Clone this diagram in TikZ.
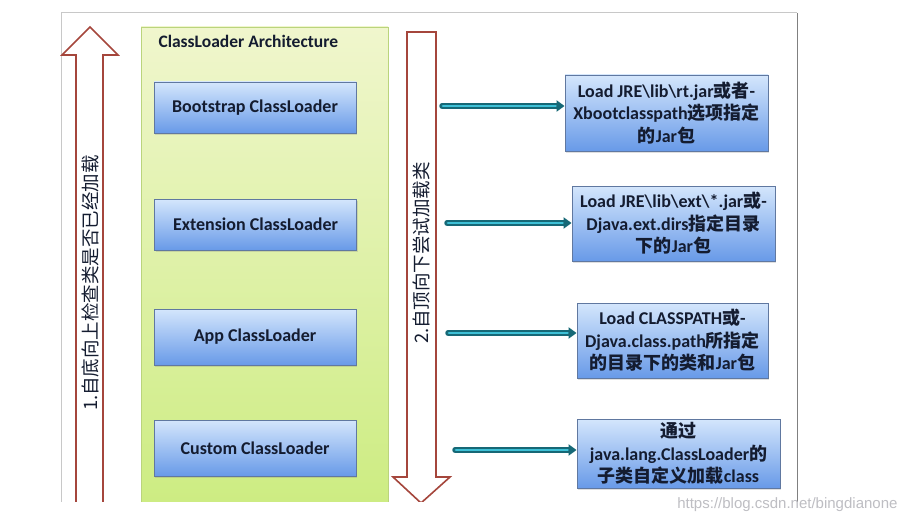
\documentclass[tikz,border=0pt]{standalone}
\usepackage{fontspec}
\setmainfont{Carlito}
\newfontfamily\cjk{Noto Sans CJK SC}
\newfontfamily\wmfont{Liberation Sans}
\usetikzlibrary{arrows.meta,shadows}
\newcommand\zh[1]{{\cjk #1}}
\newcommand\bs{\textbackslash}
\definecolor{boxtop}{RGB}{212,230,252}
\definecolor{boxbot}{RGB}{104,154,232}
\definecolor{boxedge}{RGB}{96,120,160}
\definecolor{grtop}{RGB}{240,246,205}
\definecolor{grbot}{RGB}{204,236,128}
\definecolor{gredge}{RGB}{186,212,124}
\definecolor{arrred}{RGB}{165,70,60}
\definecolor{tealdark}{RGB}{22,104,118}
\definecolor{teallight}{RGB}{62,192,214}
\definecolor{framegray}{RGB}{200,200,200}
\definecolor{txt}{RGB}{20,28,48}
\tikzset{
  loaderbox/.style={draw=boxedge, line width=0.9pt, top color=boxtop, bottom color=boxbot,
    minimum width=202pt, text=txt, font=\bfseries\fontsize{18}{20}\selectfont,
    drop shadow={opacity=0.25, shadow xshift=1.2pt, shadow yshift=-1.5pt}},
  infobox/.style={draw=boxedge, line width=0.9pt, top color=boxtop, bottom color=boxbot,
    text=txt, align=center, inner sep=0pt, font=\bfseries\fontsize{18}{22.5}\selectfont,
    drop shadow={opacity=0.25, shadow xshift=1.2pt, shadow yshift=-1.5pt}},
  panelbox/.style={draw=gredge, line width=0.8pt, top color=grtop, bottom color=grbot, inner sep=0pt},
  flowarrow/.style={draw=arrred, line width=1.6pt, fill=white, line join=miter},
  vtext/.style={rotate=90, text=txt, font=\cjk\fontsize{18.5}{20}\selectfont},
  tealout/.style={draw=tealdark, line width=5.5pt, line cap=round, -{Triangle[length=8pt,width=11pt]}},
  tealin/.style={draw=teallight, line width=2.8pt, line cap=round, shorten >=9pt, shorten <=1pt},
}
\begin{document}
\begin{tikzpicture}[x=1pt,y=-1pt]
\useasboundingbox (0,0) rectangle (909,524);
\fill[white] (0,0) rectangle (909,524);
\begin{scope}
\clip (0,0) rectangle (909,501);
% outer frame
\draw[framegray, line width=1pt] (61,510) -- (61,13) -- (797,13);
\draw[gray, line width=1pt] (797,13) -- (797,520);
% green panel
\node[panelbox, minimum width=247pt, minimum height=490pt] (arch) at (264.5,272) {};
\node[anchor=west, text=txt, font=\bfseries\fontsize{17.5}{18}\selectfont] (title) at (155,41) {ClassLoader Architecture};
% up arrow
\draw[flowarrow] (76,515) -- (76,55) -- (62,55) -- (90,27) -- (118,55) -- (103,55) -- (103,515);
\node[vtext] (uptext) at (90,283) {1.自底向上检查类是否已经加载};
% down arrow
\draw[flowarrow] (407,32) -- (436,32) -- (436,477) -- (450,477) -- (421,503) -- (393,477) -- (407,477) -- cycle;
\node[vtext] (downtext) at (421,253) {2.自顶向下尝试加载类};
% loaders
\node[loaderbox, minimum height=51pt] (boot) at (255,107.5) {Bootstrap ClassLoader};
\node[loaderbox, minimum height=51pt] (ext) at (255.5,224.5) {Extension ClassLoader};
\node[loaderbox, minimum height=56pt] (app) at (255,337) {App ClassLoader};
\node[loaderbox, minimum height=56pt] (cust) at (255,448) {Custom ClassLoader};
% info boxes
\node[infobox, minimum width=203pt, minimum height=76pt] (r1) at (666.5,113)
  {Load JRE\bs lib\bs rt.jar\zh{或者}-\\Xbootclasspath\zh{选项指定}\\\zh{的}Jar\zh{包}};
\node[infobox, minimum width=203pt, minimum height=75pt] (r2) at (673.5,223.5)
  {Load JRE\bs lib\bs ext\bs *.jar\zh{或}-\\Djava.ext.dirs\zh{指定目录}\\\zh{下的}Jar\zh{包}};
\node[infobox, minimum width=191pt, minimum height=75pt] (r3) at (672.5,340.5)
  {Load CLASSPATH\zh{或}-\\Djava.class.path\zh{所指定}\\\zh{的目录下的类和}Jar\zh{包}};
\node[infobox, minimum width=203pt, minimum height=69pt] (r4) at (678.5,453.5)
  {\zh{通过}\\java.lang.ClassLoader\zh{的}\\\zh{子类自定义加载}class};
% connectors
\coordinate (s1) at (442,106);
\coordinate (s2) at (447,223);
\coordinate (s3) at (448,333);
\coordinate (s4) at (455,450);
\foreach \s/\r in {s1/r1,s2/r2,s3/r3,s4/r4}{
  \draw[tealout] (\s) -- (\s -| \r.west);
  \draw[tealin] (\s) -- (\s -| \r.west);
}
\end{scope}
\node[anchor=east, text={rgb,255:red,190;green,190;blue,195}, font=\wmfont\fontsize{15}{17}\selectfont] (wm) at (901,505) {https://blog.csdn.net/bingdianone};
\end{tikzpicture}
\end{document}
